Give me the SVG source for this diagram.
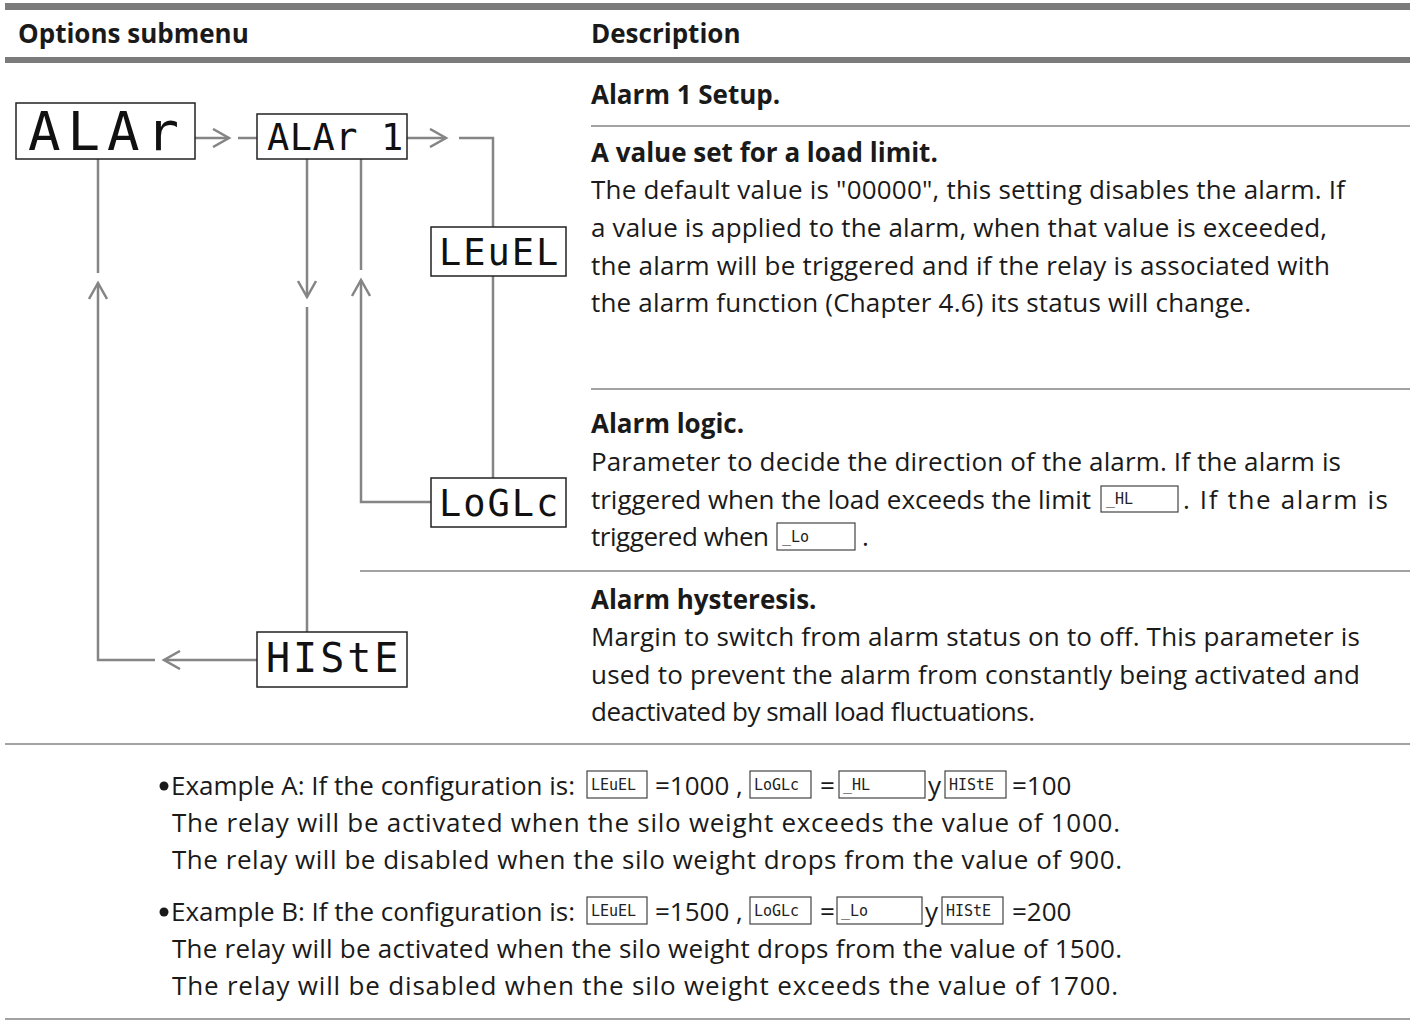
<svg xmlns="http://www.w3.org/2000/svg" width="1410" height="1022" viewBox="0 0 1410 1022">
<style>
.bar{fill:#7b7b7b}
.sep{stroke:#a3a3a3;stroke-width:2;fill:none}
.hd{font-family:"Open Sans","Noto Sans",sans-serif;font-weight:bold;font-size:26px;fill:#1a1a1a}
.tx{font-family:"Open Sans","Noto Sans",sans-serif;font-size:26px;fill:#1a1a1a}
.box{fill:#fff;stroke:#222;stroke-width:1.5}
.sbox{fill:#fff;stroke:#444;stroke-width:1.2}
.seg{font-family:"DejaVu Sans Mono",monospace;fill:#111}
.sseg{font-family:"DejaVu Sans Mono",monospace;fill:#222;font-size:15px}
.con{stroke:#858585;stroke-width:2.5;fill:none}
</style>
<defs>
<marker id="chev" viewBox="0 0 20 20" refX="17" refY="10" markerWidth="20" markerHeight="20" markerUnits="userSpaceOnUse" orient="auto">
<path d="M1,1 L17,10 L1,19" fill="none" stroke="#858585" stroke-width="2.5"/>
</marker>
</defs>
<rect width="1410" height="1022" fill="#fff"/>

<g id="header">
<rect class="bar" x="5" y="3" width="1405" height="7"/>
<text class="hd" x="18" y="43">Options submenu</text>
<text class="hd" x="591" y="43">Description</text>
<rect class="bar" x="5" y="57" width="1405" height="6"/>
</g>

<g id="connectors">
<path class="con" d="M195,138 H229" marker-end="url(#chev)"/>
<path class="con" d="M238,138 H257"/>
<path class="con" d="M407,138 H446" marker-end="url(#chev)"/>
<path class="con" d="M459,138 H493 V227"/>
<path class="con" d="M493,276 V478"/>
<path class="con" d="M431,502 H361 V280" marker-end="url(#chev)"/>
<path class="con" d="M361,270 V159"/>
<path class="con" d="M307,159 V297" marker-end="url(#chev)"/>
<path class="con" d="M307,307 V632"/>
<path class="con" d="M257,660 H164" marker-end="url(#chev)"/>
<path class="con" d="M155,660 H98 V283" marker-end="url(#chev)"/>
<path class="con" d="M98,273 V159"/>
</g>

<g id="node-alar">
<rect class="box" x="16" y="103" width="179" height="56"/>
<text class="seg" x="28" y="150" font-size="54" letter-spacing="7">ALAr</text>
</g>
<g id="node-alar1">
<rect class="box" x="257" y="114" width="150" height="45"/>
<text class="seg" x="267" y="150" font-size="37" letter-spacing="0.5">ALAr 1</text>
</g>
<g id="node-level">
<rect class="box" x="431" y="227" width="135" height="49"/>
<text class="seg" x="439" y="265" font-size="37" letter-spacing="2">LEuEL</text>
</g>
<g id="node-logic">
<rect class="box" x="431" y="478" width="135" height="49"/>
<text class="seg" x="439" y="516" font-size="37" letter-spacing="2">LoGLc</text>
</g>
<g id="node-histe">
<rect class="box" x="257" y="632" width="150" height="55"/>
<text class="seg" x="266" y="672" font-size="40" letter-spacing="3">HIStE</text>
</g>

<g id="separators">
<line class="sep" x1="591" y1="126" x2="1410" y2="126"/>
<line class="sep" x1="591" y1="389" x2="1410" y2="389"/>
<line class="sep" x1="360" y1="571" x2="1410" y2="571"/>
<line class="sep" x1="5" y1="744" x2="1410" y2="744"/>
<line class="sep" x1="5" y1="1019" x2="1410" y2="1019"/>
</g>

<g id="desc-setup">
<text class="hd" x="591" y="104">Alarm 1 Setup.</text>
</g>
<g id="desc-level">
<text class="hd" x="591" y="162">A value set for a load limit.</text>
<text class="tx" x="591" y="199" textLength="754" lengthAdjust="spacing">The default value is "00000", this setting disables the alarm. If</text>
<text class="tx" x="591" y="237" textLength="736" lengthAdjust="spacing">a value is applied to the alarm, when that value is exceeded,</text>
<text class="tx" x="591" y="275" textLength="739" lengthAdjust="spacing">the alarm will be triggered and if the relay is associated with</text>
<text class="tx" x="591" y="312" textLength="660" lengthAdjust="spacing">the alarm function (Chapter 4.6) its status will change.</text>
</g>
<g id="desc-logic">
<text class="hd" x="591" y="433">Alarm logic.</text>
<text class="tx" x="591" y="471" textLength="750" lengthAdjust="spacing">Parameter to decide the direction of the alarm. If the alarm is</text>
<text class="tx" x="591" y="509" textLength="500" lengthAdjust="spacing">triggered when the load exceeds the limit</text>
<rect class="sbox" x="1101" y="486" width="77" height="26"/>
<text class="sseg" x="1106" y="504">_HL</text>
<text class="tx" x="1183" y="509" textLength="205" lengthAdjust="spacing">. If the alarm is</text>
<text class="tx" x="591" y="546" textLength="178" lengthAdjust="spacing">triggered when</text>
<rect class="sbox" x="777" y="523" width="78" height="27"/>
<text class="sseg" x="782" y="542">_Lo</text>
<text class="tx" x="862" y="546">.</text>
</g>
<g id="desc-hysteresis">
<text class="hd" x="591" y="609">Alarm hysteresis.</text>
<text class="tx" x="591" y="646" textLength="769" lengthAdjust="spacing">Margin to switch from alarm status on to off. This parameter is</text>
<text class="tx" x="591" y="684" textLength="769" lengthAdjust="spacing">used to prevent the alarm from constantly being activated and</text>
<text class="tx" x="591" y="721" textLength="444" lengthAdjust="spacing">deactivated by small load fluctuations.</text>
</g>

<g id="example-a">
<circle cx="164" cy="786" r="4.5" fill="#1a1a1a"/>
<text class="tx" x="171" y="795" textLength="404" lengthAdjust="spacing">Example A: If the configuration is:</text>
<rect class="sbox" x="587" y="771" width="60" height="27"/>
<text class="sseg" x="591" y="790">LEuEL</text>
<text class="tx" x="655" y="795">=1000 ,</text>
<rect class="sbox" x="750" y="771" width="61" height="27"/>
<text class="sseg" x="754" y="790">LoGLc</text>
<text class="tx" x="820" y="795">=</text>
<rect class="sbox" x="839" y="771" width="86" height="27"/>
<text class="sseg" x="843" y="790">_HL</text>
<text class="tx" x="928" y="795">y</text>
<rect class="sbox" x="945" y="771" width="61" height="27"/>
<text class="sseg" x="949" y="790">HIStE</text>
<text class="tx" x="1012" y="795">=100</text>
<text class="tx" x="172" y="832" textLength="948" lengthAdjust="spacing">The relay will be activated when the silo weight exceeds the value of 1000.</text>
<text class="tx" x="172" y="869" textLength="950" lengthAdjust="spacing">The relay will be disabled when the silo weight drops from the value of 900.</text>
</g>
<g id="example-b">
<circle cx="164" cy="912" r="4.5" fill="#1a1a1a"/>
<text class="tx" x="171" y="921" textLength="404" lengthAdjust="spacing">Example B: If the configuration is:</text>
<rect class="sbox" x="587" y="897" width="60" height="27"/>
<text class="sseg" x="591" y="916">LEuEL</text>
<text class="tx" x="655" y="921">=1500 ,</text>
<rect class="sbox" x="750" y="897" width="61" height="27"/>
<text class="sseg" x="754" y="916">LoGLc</text>
<text class="tx" x="820" y="921">=</text>
<rect class="sbox" x="837" y="897" width="85" height="27"/>
<text class="sseg" x="841" y="916">_Lo</text>
<text class="tx" x="925" y="921">y</text>
<rect class="sbox" x="942" y="897" width="61" height="27"/>
<text class="sseg" x="946" y="916">HIStE</text>
<text class="tx" x="1012" y="921">=200</text>
<text class="tx" x="172" y="958" textLength="950" lengthAdjust="spacing">The relay will be activated when the silo weight drops from the value of 1500.</text>
<text class="tx" x="172" y="995" textLength="946" lengthAdjust="spacing">The relay will be disabled when the silo weight exceeds the value of 1700.</text>
</g>
</svg>
